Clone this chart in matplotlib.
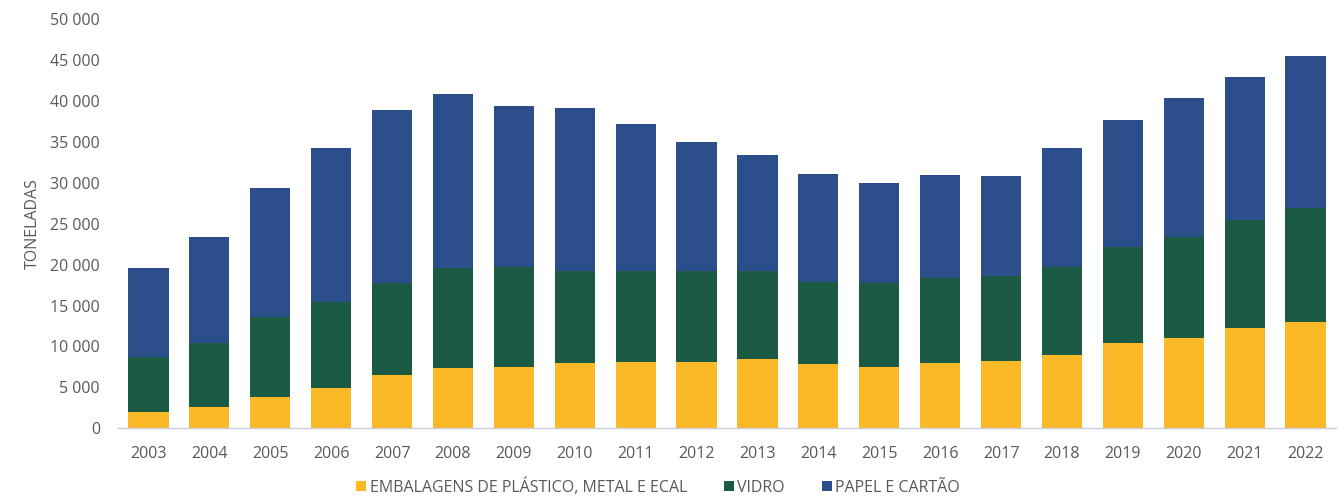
import matplotlib
matplotlib.use("Agg")
import matplotlib.pyplot as plt
from matplotlib.ticker import FuncFormatter
import numpy as np

plt.rcParams['font.family'] = ['Open Sans', 'DejaVu Sans']

years = [str(y) for y in range(2003, 2023)]
embalagens = [2030, 2640, 3860, 4960, 6520, 7340, 7530, 7950, 8140, 8140,
              8430, 7820, 7530, 7950, 8230, 8960, 10390, 11000, 12300, 13030]
vidro = [6720, 7750, 9780, 10520, 11280, 12300, 12230, 11320, 11130, 11130,
         10840, 10100, 10270, 10390, 10390, 10800, 11810, 12420, 13160, 13860]
papel = [10810, 13030, 15770, 18750, 21110, 21230, 19640, 19850, 17930, 15770,
         14140, 13170, 12150, 12630, 12230, 14470, 15490, 16920, 17450, 18620]

series_names = ["EMBALAGENS DE PLÁSTICO, METAL E ECAL", "VIDRO", "PAPEL E CARTÃO"]
colors = ["#FBB827", "#1B5B43", "#2C4E8B"]
text_color = "#595959"
fs = 11.5

fig = plt.figure(figsize=(13.41, 5.01), dpi=100)
ax = fig.add_axes([118 / 1341, 72.7 / 501, (1336 - 118) / 1341, (428.3 - 19.3) / 501])

x = np.arange(len(years))
bottom = np.zeros(len(years))
for vals, name, col in zip([embalagens, vidro, papel], series_names, colors):
    ax.bar(x, vals, width=0.66, bottom=bottom, color=col, label=name, zorder=2)
    bottom += np.array(vals)

ax.set_xlim(-0.5, len(years) - 0.5)
ax.set_ylim(0, 50000)
ax.set_yticks(np.arange(0, 50001, 5000))
ax.yaxis.set_major_formatter(FuncFormatter(lambda v, p: f"{int(v):,}".replace(",", " ")))
ax.set_xticks(x)
ax.set_xticklabels(years)

for side in ["top", "right", "left"]:
    ax.spines[side].set_visible(False)
ax.spines["bottom"].set_color("#C9CED8")
ax.spines["bottom"].set_linewidth(1.0)
ax.tick_params(axis="both", length=0, labelsize=fs, colors=text_color)
ax.tick_params(axis="x", pad=12.5)
ax.tick_params(axis="y", pad=13)

ax.set_ylabel("TONELADAS", fontsize=fs, color=text_color)
ax.yaxis.set_label_coords(-(118 - 41) / (1336 - 118), 0.5)

fig.legend(loc="center", bbox_to_anchor=(0.4907, 1 - 487 / 501), ncol=3,
           frameon=False, fontsize=fs, labelcolor=text_color,
           handlelength=0.65, handleheight=0.65, handletextpad=0.2,
           columnspacing=2.3)

fig.savefig("out.png", dpi=100, facecolor="white")
